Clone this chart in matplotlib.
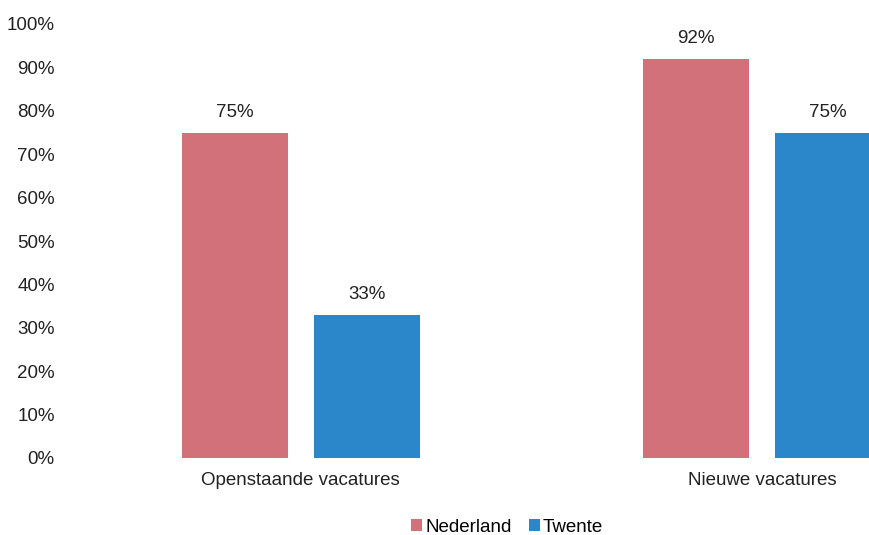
import numpy as np
import matplotlib.pyplot as plt

plt.rcParams['font.family'] = ['Liberation Sans', 'DejaVu Sans']

categories = ["Openstaande vacatures", "Nieuwe vacatures"]
series = ["Nederland", "Twente"]
nederland = [75, 92]
twente = [33, 75]
colors = ["#d3717b", "#2b87ca"]

W, H = 869, 535
fs = 13.5
fig = plt.figure(figsize=(W/100, H/100), dpi=100)
# axes runs past the right edge, as in the scan
ax = fig.add_axes([70/W, 1 - 458/H, (W - 70)/W, 434/H])

x = np.arange(len(categories))
w = 0.23
off = 0.143
b1 = ax.bar(x - off, nederland, w, color=colors[0], label=series[0])
b2 = ax.bar(x + off, twente, w, color=colors[1], label=series[1])

for bars, vals in [(b1, nederland), (b2, twente)]:
    for b, v in zip(bars, vals):
        ax.text(b.get_x() + b.get_width()/2, v + 4.6, f"{v}%",
                ha="center", va="center", fontsize=fs, color="#222222")

ax.set_ylim(0, 100)
ax.set_yticks(range(0, 101, 10))
ax.set_yticklabels([f"{t}%" for t in range(0, 101, 10)], fontsize=fs, color="#222222")
ax.set_xlim(-0.5, (W - 70)/461.5 - 0.5)
ax.set_xticks(x)
ax.set_xticklabels(categories, fontsize=fs, color="#222222")
ax.tick_params(length=0)
ax.tick_params(axis="y", pad=11)
ax.tick_params(axis="x", pad=10)
for s in ax.spines.values():
    s.set_visible(False)

fig.legend(loc="center", bbox_to_anchor=(507/W, 1 - 527/H), ncol=2, frameon=False,
           fontsize=fs, handlelength=0.6, handleheight=0.6, handletextpad=0.15,
           columnspacing=0.9)

fig.savefig("out.png", dpi=100)
